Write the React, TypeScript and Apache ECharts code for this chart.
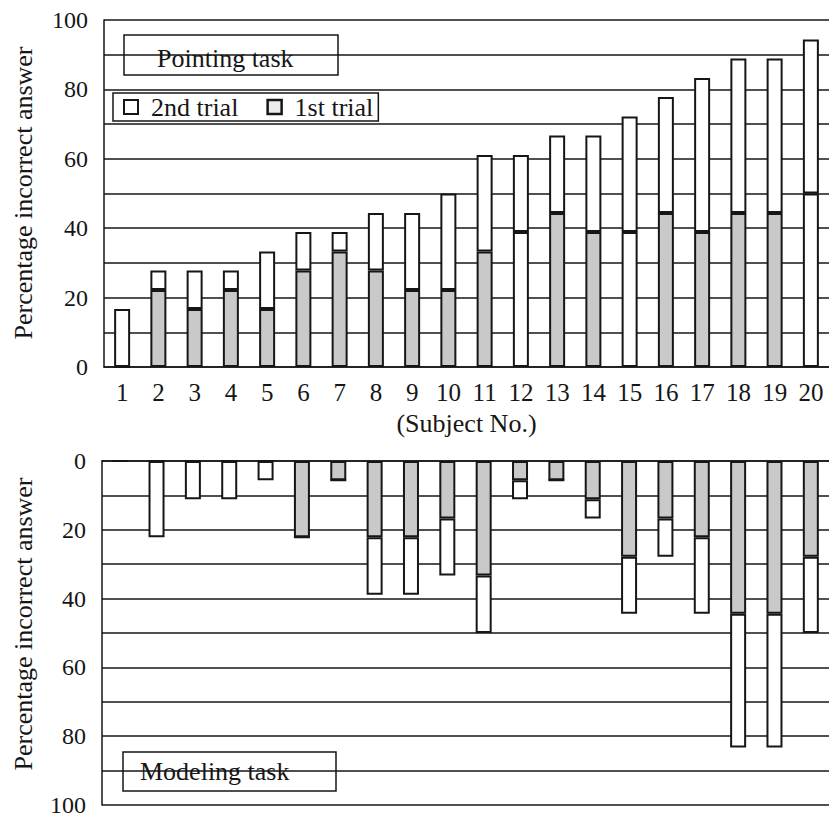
import React, { useEffect, useRef } from "react";
import * as echarts from "echarts";

const subjects = ["1","2","3","4","5","6","7","8","9","10","11","12","13","14","15","16","17","18","19","20"];
const yTickValues = [0, 20, 40, 60, 80, 100];

// Pointing task: % incorrect after 1st trial and after 2nd trial (cumulative)
const pointingFirst = [0, 22.2, 16.7, 22.2, 16.7, 27.8, 33.3, 27.8, 22.2, 22.2, 33.3, 38.9, 44.4, 38.9, 38.9, 44.4, 38.9, 44.4, 44.4, 50];
const pointingTotal = [16.7, 27.8, 27.8, 27.8, 33.3, 38.9, 38.9, 44.4, 44.4, 50, 61.1, 61.1, 66.7, 66.7, 72.2, 77.8, 83.3, 88.9, 88.9, 94.4];
// Modeling task
const modelingFirst = [0, 0, 0, 0, 0, 22.2, 5.6, 22.2, 22.2, 16.7, 33.3, 5.6, 5.6, 11.1, 27.8, 16.7, 22.2, 44.4, 44.4, 27.8];
const modelingTotal = [0, 22.2, 11.1, 11.1, 5.6, 22.2, 5.6, 38.9, 38.9, 33.3, 50, 11.1, 5.6, 16.7, 44.4, 27.8, 44.4, 83.3, 83.3, 50];

// subjects whose 1st-trial shading is not visible in the scanned reference
const pointingUnshaded = ["12", "15", "20"];

const FONT = '"Liberation Serif", "Times New Roman", serif';
const INK = "#161616";
const GRAY = "#c9c9c9";
const Y_NAME = "Percentage incorrect answer";

export default function App() {
  const ref = useRef<HTMLDivElement>(null);
  useEffect(() => {
    if (!ref.current) return;
    const chart = echarts.init(ref.current, null, { renderer: "svg" });
    const diff = (t: number[], f: number[]) => t.map((v, i) => +(v - f[i]).toFixed(1));
    const yLabel = (v: number) => (yTickValues.includes(v) ? String(v) : "");
    const baseY = (gridIndex: number, inverse: boolean) => ({
      gridIndex,
      type: "value",
      min: 0,
      max: 100,
      interval: 10,
      inverse,
      axisLine: { show: true, lineStyle: { color: INK, width: 1.5 } },
      axisTick: { show: false },
      axisLabel: {
        formatter: yLabel,
        fontFamily: FONT,
        fontSize: 24,
        color: INK,
        margin: 16,
        padding: inverse ? [10, 0, 0, 0] : [2, 0, 0, 0],
      },
      splitLine: { show: true, lineStyle: { color: INK, width: 1.5 } },
    });
    const barStyle = { borderColor: INK, borderWidth: 2 };
    chart.setOption({
      animation: false,
      backgroundColor: "#fff",
      grid: [
        { left: 104, top: 20, width: 730, height: 347 },
        { left: 102, top: 461, width: 728, height: 344 },
      ],
      legend: {
        left: 113,
        top: 93,
        orient: "horizontal",
        padding: [1, 5, 1, 10],
        itemWidth: 14,
        itemHeight: 14,
        itemGap: 28,
        icon: "rect",
        backgroundColor: "#fff",
        borderColor: INK,
        borderWidth: 1.5,
        borderRadius: 0,
        textStyle: { fontFamily: FONT, fontSize: 26, color: INK, padding: [0, 0, 0, 8] },
        data: [
          { name: "2nd trial", itemStyle: { color: "#fff", borderColor: INK, borderWidth: 2 } },
          { name: "1st trial", itemStyle: { color: "#ececec", borderColor: INK, borderWidth: 2.5 } },
        ],
      },
      xAxis: [
        {
          gridIndex: 0,
          type: "category",
          data: subjects,
          name: "(Subject No.)",
          nameLocation: "middle",
          nameGap: 43,
          nameTextStyle: { fontFamily: FONT, fontSize: 26, color: INK },
          axisLine: { lineStyle: { color: INK, width: 1.5 } },
          axisTick: { inside: true, length: 6, lineStyle: { color: INK, width: 1.5 } },
          axisLabel: { fontFamily: FONT, fontSize: 25, color: INK, margin: 13, interval: 0 },
        },
        {
          gridIndex: 1,
          type: "category",
          data: subjects,
          position: "top",
          axisLine: { lineStyle: { color: INK, width: 1.5 } },
          axisTick: { inside: true, length: 7, lineStyle: { color: INK, width: 1.5 } },
          axisLabel: { show: false },
        },
      ],
      yAxis: [baseY(0, false), baseY(1, true)],
      series: [
        {
          name: "1st trial",
          type: "bar",
          xAxisIndex: 0,
          yAxisIndex: 0,
          stack: "pointing",
          barWidth: 16,
          data: pointingFirst,
          itemStyle: {
            ...barStyle,
            color: (p: any) => (pointingUnshaded.includes(subjects[p.dataIndex]) ? "#fff" : GRAY),
          },
        },
        {
          name: "2nd trial",
          type: "bar",
          xAxisIndex: 0,
          yAxisIndex: 0,
          stack: "pointing",
          barWidth: 16,
          data: diff(pointingTotal, pointingFirst),
          itemStyle: { ...barStyle, color: "#fff" },
        },
        {
          name: "1st trial",
          type: "bar",
          xAxisIndex: 1,
          yAxisIndex: 1,
          stack: "modeling",
          barWidth: 16,
          data: modelingFirst,
          itemStyle: { ...barStyle, color: GRAY },
        },
        {
          name: "2nd trial",
          type: "bar",
          xAxisIndex: 1,
          yAxisIndex: 1,
          stack: "modeling",
          barWidth: 16,
          data: diff(modelingTotal, modelingFirst),
          itemStyle: { ...barStyle, color: "#fff" },
        },
      ],
      graphic: [
        {
          type: "text",
          x: 23,
          y: 193,
          rotation: Math.PI / 2,
          style: { text: Y_NAME, font: `26px ${FONT}`, fill: INK, align: "center", verticalAlign: "middle" },
        },
        {
          type: "text",
          x: 23,
          y: 624,
          rotation: Math.PI / 2,
          style: { text: Y_NAME, font: `26px ${FONT}`, fill: INK, align: "center", verticalAlign: "middle" },
        },
        {
          type: "group",
          children: [
            { type: "rect", shape: { x: 124, y: 35, width: 214, height: 40 }, style: { fill: "#fff", stroke: INK, lineWidth: 1.5 } },
            { type: "text", x: 157, y: 58, style: { text: "Pointing task", font: `26px ${FONT}`, fill: INK, verticalAlign: "middle" } },
          ],
        },
        {
          type: "group",
          children: [
            { type: "rect", shape: { x: 123, y: 752, width: 213, height: 39 }, style: { fill: "#fff", stroke: INK, lineWidth: 1.5 } },
            { type: "text", x: 140, y: 771, style: { text: "Modeling task", font: `26px ${FONT}`, fill: INK, verticalAlign: "middle" } },
          ],
        },
      ],
    });
    return () => chart.dispose();
  }, []);
  return (
    <div
      ref={ref}
      style={{ position: "absolute", left: 0, top: 0, width: 829, height: 819, background: "#fff" }}
    />
  );
}
